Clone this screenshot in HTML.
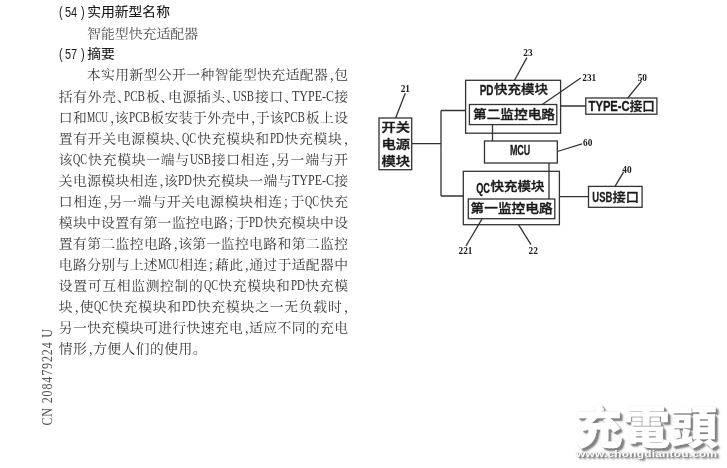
<!DOCTYPE html>
<html lang="zh-CN">
<head>
<meta charset="utf-8">
<title>智能型快充适配器</title>
<style>
html,body{margin:0;padding:0;background:#fff;}
body{width:727px;height:468px;position:relative;overflow:hidden;font-family:"Liberation Serif","Noto Serif CJK SC",serif;}
.n{display:inline-block;position:relative;width:27.7px;height:14px;vertical-align:baseline;}
.n i{position:absolute;top:0.2px;font-style:normal;font-weight:normal;font-size:15px;line-height:20px;transform-origin:0 50%;transform:scaleX(0.73);-webkit-text-stroke:0;}
.n .p1{left:-1px}.n .p2{left:5.6px}.n .p3{left:21px}
.h{position:absolute;left:59.5px;font-weight:400;-webkit-text-stroke:0.12px #1a1a1a;transform:scaleY(0.93);font-family:"Liberation Sans","Noto Sans CJK SC",sans-serif;font-size:13.8px;line-height:20px;color:#1a1a1a;white-space:nowrap;}
.t{position:absolute;left:87px;font-size:13.9px;line-height:20px;color:#4a4a4a;transform:scaleY(0.92);white-space:nowrap;}
.ln{position:absolute;left:58.8px;width:289.2px;height:21px;font-size:13.8px;line-height:21px;color:#383838;transform:scaleY(0.93);text-align:justify;text-align-last:justify;text-justify:inter-character;font-feature-settings:"halt";white-space:nowrap;}
.ln.first{left:86.8px;width:261.2px;}
.ln.last{text-align:left;text-align-last:left;}
.l{font-size:15px;display:inline-block;text-align:left;text-align-last:left;}
.l b{display:inline-block;font-weight:normal;transform-origin:0 50%;white-space:nowrap;}
.pcb{width:21px}.pcb b{transform:scaleX(0.740)}
.usb{width:21px}.usb b{transform:scaleX(0.720)}
.typec{width:42px}.typec b{transform:scaleX(0.800)}
.mcu{width:21px}.mcu b{transform:scaleX(0.614)}
.qc{width:14px}.qc b{transform:scaleX(0.672)}
.pd{width:14px}.pd b{transform:scaleX(0.730)}
.c{margin-left:1.2px;margin-right:-2.6px;}
svg{position:absolute;left:0;top:0;will-change:transform;}
.wm{position:absolute;color:#fff;white-space:nowrap;font-family:"Liberation Sans","Noto Sans CJK TC",sans-serif;font-weight:bold;}
</style>
</head>
<body>
<div id="pg" style="position:absolute;left:0;top:0;width:727px;height:468px;will-change:transform;">
<div class="h" style="top:1.5px"><span class="n"><i class="p1">(</i><i class="p2">54</i><i class="p3">)</i></span>实用新型名称</div>
<div class="t" style="top:23.6px">智能型快充适配器</div>
<div class="h" style="top:43.8px"><span class="n"><i class="p1">(</i><i class="p2">57</i><i class="p3">)</i></span>摘要</div>

<div class="ln first" style="top:64px">本实用新型公开一种智能型快充适配器<span class="c">，</span>包</div>
<div class="ln" style="top:86px">括有外壳、<span class="l pcb"><b>PCB</b></span>板、电源插头、<span class="l usb"><b>USB</b></span>接口、<span class="l typec"><b>TYPE-C</b></span>接</div>
<div class="ln" style="top:107px">口和<span class="l mcu"><b>MCU</b></span><span class="c">，</span>该<span class="l pcb"><b>PCB</b></span>板安装于外壳中<span class="c">，</span>于该<span class="l pcb"><b>PCB</b></span>板上设</div>
<div class="ln" style="top:128px">置有开关电源模块、<span class="l qc"><b>QC</b></span>快充模块和<span class="l pd"><b>PD</b></span>快充模块<span class="c">，</span></div>
<div class="ln" style="top:149px">该<span class="l qc"><b>QC</b></span>快充模块一端与<span class="l usb"><b>USB</b></span>接口相连<span class="c">，</span>另一端与开</div>
<div class="ln" style="top:170px">关电源模块相连<span class="c">，</span>该<span class="l pd"><b>PD</b></span>快充模块一端与<span class="l typec"><b>TYPE-C</b></span>接</div>
<div class="ln" style="top:191px">口相连<span class="c">，</span>另一端与开关电源模块相连；于<span class="l qc"><b>QC</b></span>快充</div>
<div class="ln" style="top:212px">模块中设置有第一监控电路；于<span class="l pd"><b>PD</b></span>快充模块中设</div>
<div class="ln" style="top:233px">置有第二监控电路<span class="c">，</span>该第一监控电路和第二监控</div>
<div class="ln" style="top:254px">电路分别与上述<span class="l mcu"><b>MCU</b></span>相连；藉此<span class="c">，</span>通过于适配器中</div>
<div class="ln" style="top:275px">设置可互相监测控制的<span class="l qc"><b>QC</b></span>快充模块和<span class="l pd"><b>PD</b></span>快充模</div>
<div class="ln" style="top:296px">块<span class="c">，</span>使<span class="l qc"><b>QC</b></span>快充模块和<span class="l pd"><b>PD</b></span>快充模块之一无负载时<span class="c">，</span></div>
<div class="ln" style="top:317px">另一快充模块可进行快速充电<span class="c">，</span>适应不同的充电</div>
<div class="ln last" style="top:338px;letter-spacing:0.42px">情形<span class="c">，</span>方便人们的使用。</div>


<svg width="727" height="468" viewBox="0 0 727 468">
<g fill="none" stroke="#333" stroke-width="1.3">
<rect x="379" y="118" width="32.7" height="51.7"/>
<rect x="465.6" y="80.3" width="95" height="52.9"/>
<rect x="469.4" y="104.5" width="87.4" height="20.1"/>
<rect x="484.5" y="141" width="72.8" height="22"/>
<rect x="463.3" y="171.3" width="96.1" height="53.4"/>
<rect x="468.3" y="199" width="86.5" height="19.7"/>
<rect x="585.8" y="98" width="71.1" height="16.2"/>
<rect x="588.5" y="186.4" width="53.6" height="20.9"/>
<path d="M411.7 143.7H441M441 110.5V196M441 110.5H465.6M441 196H463.3M492.5 124.6V141M549 163V199M560.6 106H585.8M559.4 196.6H588.5"/>
<path d="M526.9 57.6L514.5 80.3M405.3 93.2L395.6 118M580.7 78L542.3 104.5M641.5 81.2L627.8 98M582 143.8L557.3 151.5M482.2 218.7L466 246M518.5 224.7L531 244.6M623.5 172.2L615 186.4"/>
</g>
<g font-family="'Liberation Sans',sans-serif" font-weight="bold" font-size="14" fill="#1a1a1a" stroke="#1a1a1a" stroke-width="0.3">
<text x="479.7" y="95.4" textLength="13.8" lengthAdjust="spacingAndGlyphs">PD</text>
<text x="509.9" y="155.4" textLength="20.4" lengthAdjust="spacingAndGlyphs">MCU</text>
<text x="476.2" y="192.6" textLength="13.8" lengthAdjust="spacingAndGlyphs">QC</text>
<text x="588.6" y="111.1" textLength="41" lengthAdjust="spacingAndGlyphs">TYPE-C</text>
<text x="592.3" y="202.1" textLength="20" lengthAdjust="spacingAndGlyphs">USB</text>
</g>
<g font-family="'Liberation Sans','Noto Sans CJK SC',sans-serif" font-weight="500" font-size="12.4" fill="#1a1a1a" stroke="#1a1a1a" stroke-width="0.35">
<text x="494" y="94.4" textLength="54" lengthAdjust="spacingAndGlyphs">快充模块</text>
<text x="473" y="118.5" textLength="82" lengthAdjust="spacingAndGlyphs">第二监控电路</text>
<text x="490.5" y="191.4" textLength="54" lengthAdjust="spacingAndGlyphs">快充模块</text>
<text x="470.6" y="213.2" textLength="82" lengthAdjust="spacingAndGlyphs">第一监控电路</text>
<text x="629.8" y="110.6" textLength="25" lengthAdjust="spacingAndGlyphs">接口</text>
<text x="612.5" y="201.8" textLength="26.5" lengthAdjust="spacingAndGlyphs">接口</text>
<text x="381.5" y="131.5" textLength="28.6" lengthAdjust="spacingAndGlyphs">开关</text>
<text x="381.5" y="148.5" textLength="28.6" lengthAdjust="spacingAndGlyphs">电源</text>
<text x="381.5" y="166.0" textLength="28.6" lengthAdjust="spacingAndGlyphs">模块</text>
</g>
<g font-family="'Liberation Serif',serif" font-size="9.3" font-weight="bold" fill="#1a1a1a" text-anchor="middle">
<text x="528" y="56.1">23</text>
<text x="405.3" y="92">21</text>
<text x="589.3" y="80.5">231</text>
<text x="642.3" y="80.7">50</text>
<text x="587.7" y="145.7">60</text>
<text x="627" y="172.7">40</text>
<text x="465.5" y="253.5">221</text>
<text x="533.2" y="254">22</text>
</g>
<text transform="translate(51.6,425.6) rotate(-90) scale(0.86,1)" textLength="112.4" lengthAdjust="spacing" font-family="'Liberation Serif',serif" font-size="14" fill="#555">CN 208479224 U</text>
</svg>

<div class="wm" id="logo" style="left:574.5px;top:400.5px;font-size:47px;line-height:56px;font-weight:900;-webkit-text-stroke:0.4px #fff;text-shadow:3px 3px 2px #828282,2px 2px 1px #9a9a9a,1px 1px 1px #aaa,0 0 1px #c8c8c8;transform-origin:0 0;transform:scale(1.01,0.97)">充電頭</div>
<div class="wm" id="url" style="left:576px;top:447px;font-size:9.8px;line-height:14px;text-shadow:2px 2px 2px #777,1px 1px 1px #8a8a8a,0 0 1px #aaa;letter-spacing:0.2px;transform-origin:0 0;transform:scaleX(1.21)">www.chongdiantou.com</div>
</div>
</body>
</html>
